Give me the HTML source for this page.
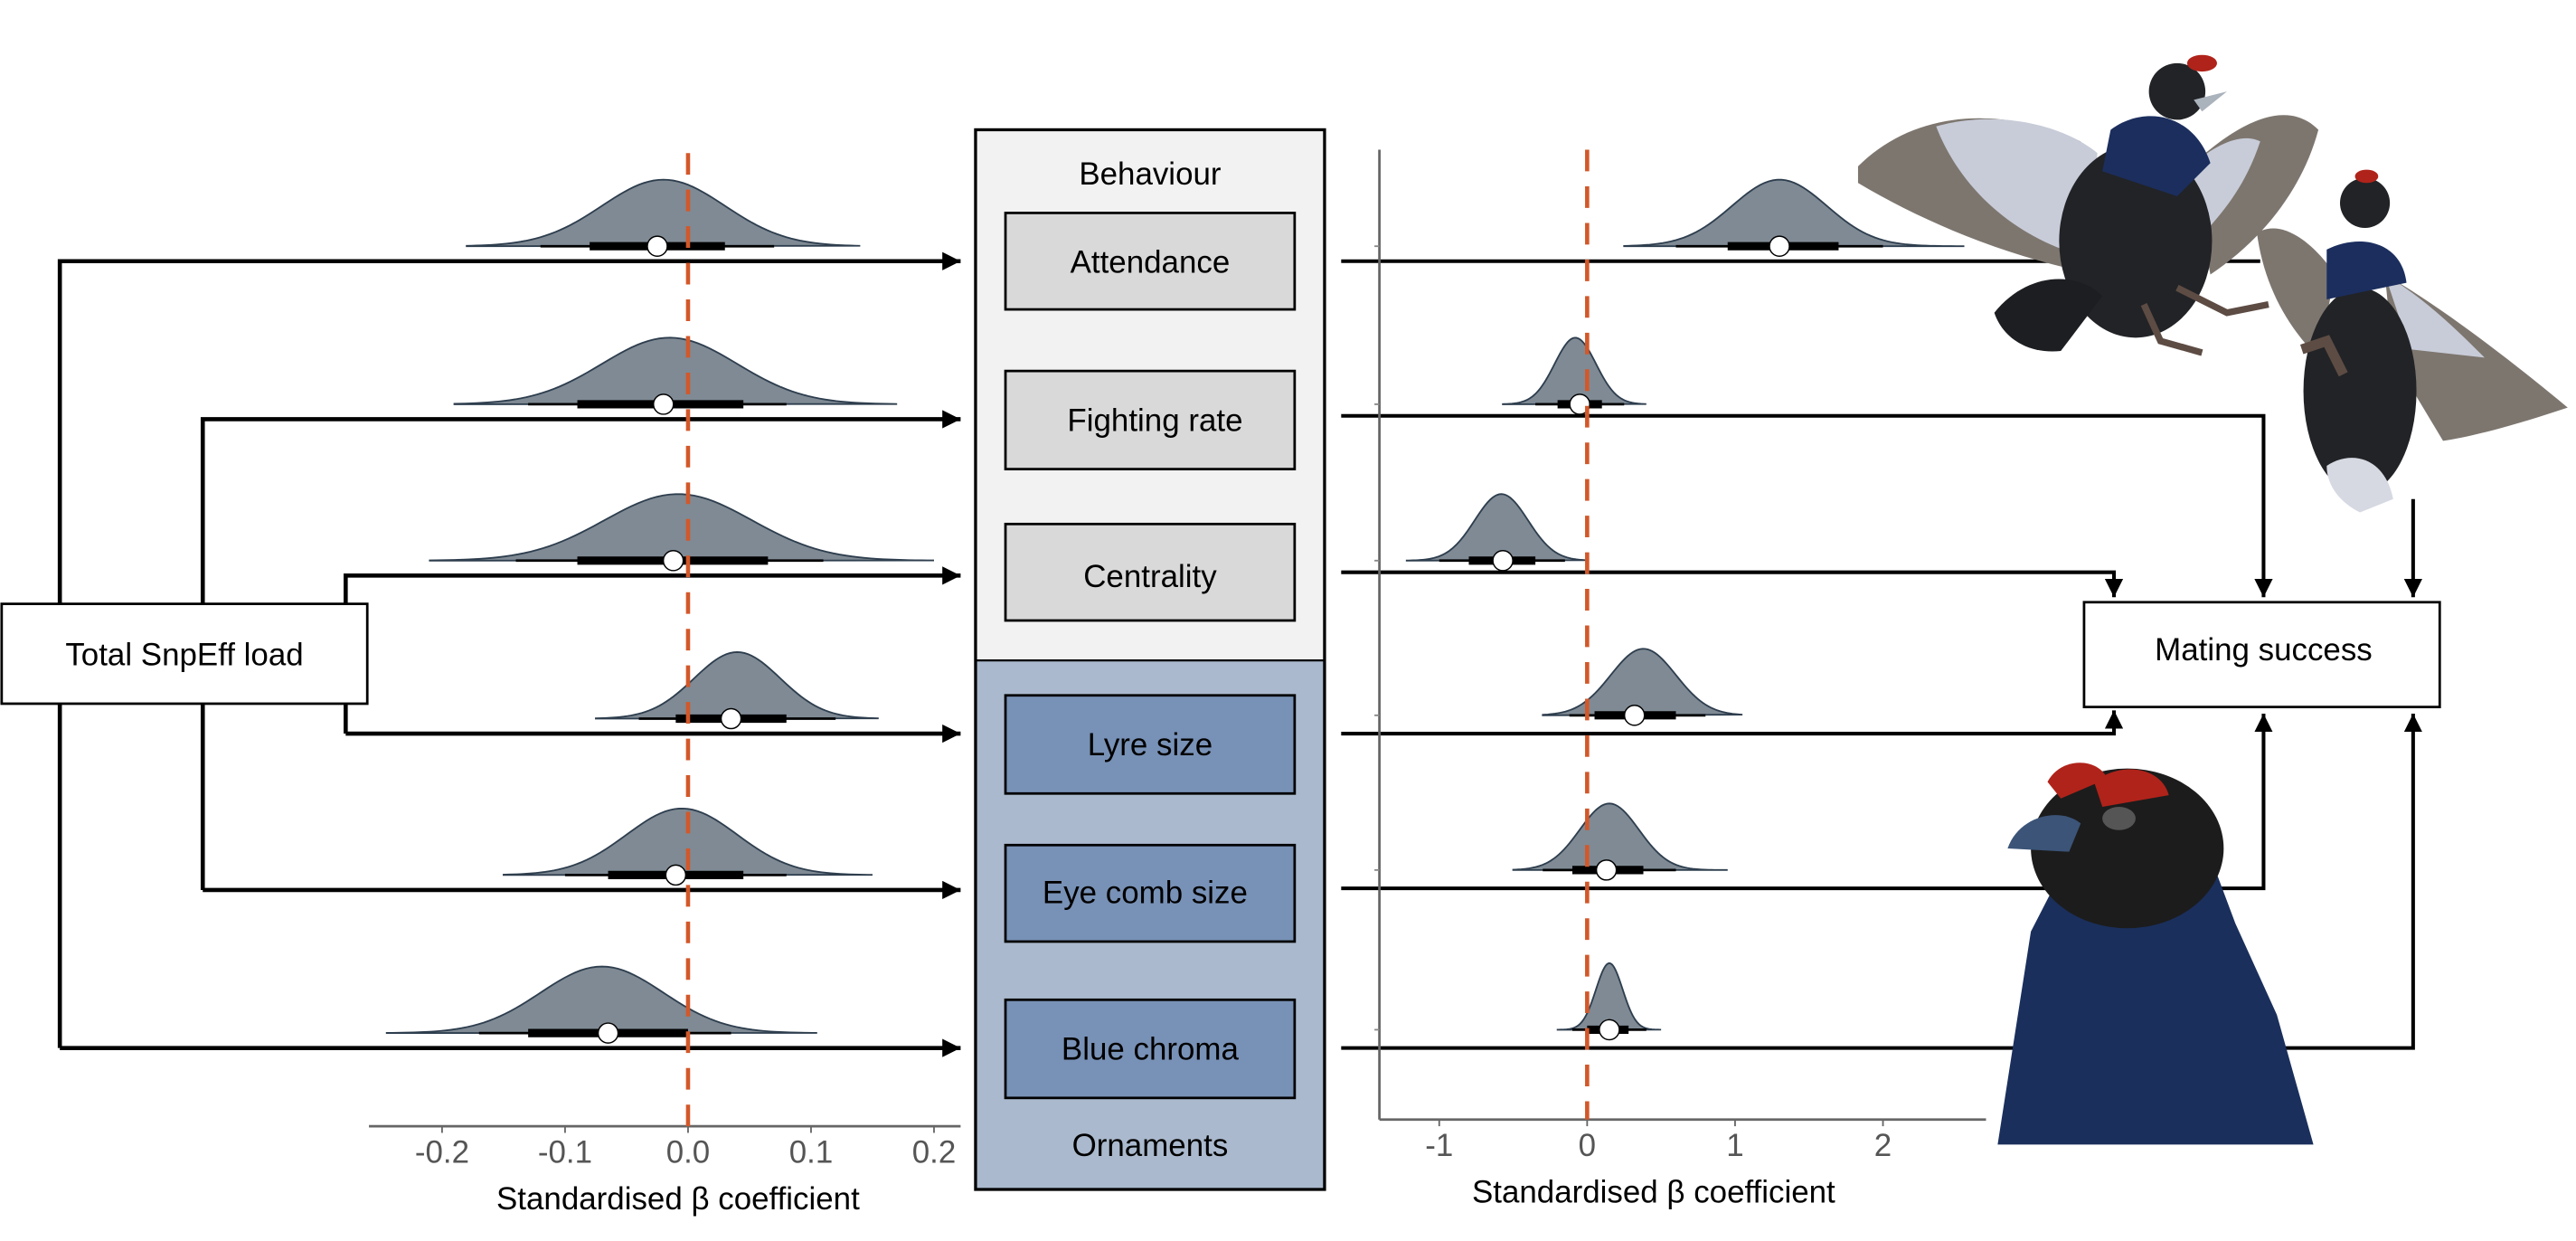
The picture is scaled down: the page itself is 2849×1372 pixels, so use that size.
<!DOCTYPE html>
<html><head><meta charset="utf-8"><style>
html,body{margin:0;padding:0;background:#fff;}
svg{display:block;}
text{font-family:"Liberation Sans",Arial,sans-serif;}
</style></head><body>
<svg id="fig" width="2849" height="1372" viewBox="0 0 1550 746" preserveAspectRatio="none" xmlns="http://www.w3.org/2000/svg">
<defs>
<marker id="ah" viewBox="0 0 10 10" refX="10" refY="5" markerWidth="11" markerHeight="11" orient="auto-start-reverse" markerUnits="userSpaceOnUse"><path d="M0,0 L10,5 L0,10 z" fill="#000"/></marker>
</defs>
<g id="birds">
 <g>
  <path d="M1118,100 C1150,68 1200,62 1252,85 L1262,165 C1210,155 1160,135 1118,110 Z" fill="#7d766f"/>
  <path d="M1165,76 C1200,66 1240,74 1262,92 L1258,155 C1215,145 1180,115 1165,76 Z" fill="#c8ccd8"/>
  <path d="M1318,100 C1345,75 1375,58 1395,78 C1385,115 1360,145 1330,165 Z" fill="#7d766f"/>
  <path d="M1318,100 C1335,85 1350,80 1360,85 C1350,115 1335,130 1322,145 Z" fill="#c8ccd8"/>
  <ellipse cx="1285" cy="145" rx="46" ry="58" fill="#222326"/>
  <path d="M1270,78 C1290,63 1320,68 1330,98 L1310,118 L1265,103 Z" fill="#1b2e5e"/>
  <path d="M1200,188 C1220,163 1250,163 1265,178 L1240,211 C1220,213 1205,203 1200,188 Z" fill="#1d1e22"/>
  <circle cx="1310" cy="55" r="17" fill="#222326"/>
  <ellipse cx="1325" cy="38" rx="9" ry="5" fill="#b0231a"/>
  <path d="M1320,60 L1340,55 L1325,67 Z" fill="#aab2bc"/>
  <path d="M1290,183 L1300,205 L1325,212" stroke="#5d4c44" stroke-width="4" fill="none"/>
  <path d="M1310,173 L1340,188 L1365,183" stroke="#5d4c44" stroke-width="4" fill="none"/>
 </g>
 <g>
  <path d="M1358,140 C1375,130 1395,150 1405,165 L1395,215 C1375,195 1362,170 1358,140 Z" fill="#7d766f"/>
  <path d="M1435,165 C1470,185 1515,220 1545,245 C1515,255 1490,262 1470,265 L1440,215 Z" fill="#7d766f"/>
  <path d="M1435,165 C1460,180 1480,200 1495,215 L1450,210 Z" fill="#c8ccd8"/>
  <ellipse cx="1420" cy="235" rx="34" ry="62" fill="#222326"/>
  <path d="M1400,150 C1420,140 1445,145 1448,170 L1400,180 Z" fill="#1b2e5e"/>
  <circle cx="1423" cy="122" r="15" fill="#222326"/>
  <ellipse cx="1424" cy="106" rx="7" ry="4" fill="#b0231a"/>
  <path d="M1400,280 C1415,270 1435,275 1440,300 L1420,308 C1408,302 1400,292 1400,280 Z" fill="#d6d9e2"/>
  <path d="M1385,210 L1400,205 L1410,225" stroke="#5d4c44" stroke-width="6" fill="none"/>
 </g>
 <g>
  <path d="M1202,688 L1222,560 L1240,525 L1330,515 L1345,555 L1370,610 L1392,688 Z" fill="#1a2f5c"/>
  <ellipse cx="1280" cy="510" rx="58" ry="48" fill="#1c1c1c"/>
  <path d="M1208,510 C1215,490 1240,485 1252,495 L1245,512 Z" fill="#3b5478"/>
  <ellipse cx="1275" cy="492" rx="10" ry="7" fill="#555"/>
  <path d="M1232,470 C1240,455 1262,455 1268,468 L1240,480 Z" fill="#b0231a"/>
  <path d="M1260,470 C1275,458 1300,460 1305,478 L1265,485 Z" fill="#b0231a"/>
 </g>
</g>
<g id="static">
 <g stroke="#000" stroke-width="2.5" fill="none">
  <path d="M36,630 L36,157 L578,157" marker-end="url(#ah)"/>
  <path d="M36,630 L578,630" marker-end="url(#ah)"/>
  <path d="M122,535 L122,252 L578,252" marker-end="url(#ah)"/>
  <path d="M122,535 L578,535" marker-end="url(#ah)"/>
  <path d="M208,441 L208,346 L578,346" marker-end="url(#ah)"/>
  <path d="M208,441 L578,441" marker-end="url(#ah)"/>
 </g>
 <rect x="1" y="363" width="220" height="60" fill="#fff" stroke="#000" stroke-width="1.5"/>
 <text x="111" y="400" font-size="19" text-anchor="middle">Total SnpEff load</text>
 <rect x="587" y="78" width="210" height="319" fill="#f2f2f2"/>
 <rect x="587" y="397" width="210" height="318" fill="#aab9cd"/>
 <rect x="587" y="78" width="210" height="637" fill="none" stroke="#000" stroke-width="1.8"/>
 <line x1="587" y1="397" x2="797" y2="397" stroke="#000" stroke-width="1.2"/>
 <text x="692" y="111" font-size="19" text-anchor="middle">Behaviour</text>
 <text x="692" y="695" font-size="19" text-anchor="middle">Ornaments</text>
 <g stroke="#000" stroke-width="1.5">
  <rect x="605" y="128" width="174" height="58" fill="#d9d9d9"/>
  <rect x="605" y="223" width="174" height="59" fill="#d9d9d9"/>
  <rect x="605" y="315" width="174" height="58" fill="#d9d9d9"/>
  <rect x="605" y="418" width="174" height="59" fill="#7891b6"/>
  <rect x="605" y="508" width="174" height="58" fill="#7891b6"/>
  <rect x="605" y="601" width="174" height="59" fill="#7891b6"/>
 </g>
 <g font-size="19" text-anchor="middle">
  <text x="692" y="164">Attendance</text>
  <text x="695" y="259">Fighting rate</text>
  <text x="692" y="353">Centrality</text>
  <text x="692" y="454">Lyre size</text>
  <text x="689" y="543">Eye comb size</text>
  <text x="692" y="637">Blue chroma</text>
 </g>
 <g stroke="#000" stroke-width="2.2" fill="none">
  <path d="M807,157 L1360,157"/>
  <path d="M807,250 L1362,250 L1362,359" marker-end="url(#ah)"/>
  <path d="M807,344 L1272,344 L1272,359" marker-end="url(#ah)"/>
  <path d="M1452,300 L1452,359" marker-end="url(#ah)"/>
  <path d="M807,441 L1272,441 L1272,427" marker-end="url(#ah)"/>
  <path d="M807,534 L1362,534 L1362,429" marker-end="url(#ah)"/>
  <path d="M807,630 L1452,630 L1452,429" marker-end="url(#ah)"/>
 </g>
 <rect x="1254" y="362" width="214" height="63" fill="#fff" stroke="#000" stroke-width="1.5"/>
 <text x="1362" y="397" font-size="19" text-anchor="middle">Mating success</text>
</g>
<g id="leftChart"></g>
<g id="rightChart"></g>
</svg>
<script>
const leftTraits = ["Attendance","Fighting rate","Centrality","Lyre size","Eye comb size","Blue chroma"];
const leftMedian = [-0.025,-0.02,-0.012,0.035,-0.01,-0.065];
const leftPeak = [-0.02,-0.015,-0.008,0.04,-0.005,-0.07];
const leftSd = [0.05,0.055,0.06,0.035,0.045,0.05];
const leftMin = [-0.18,-0.19,-0.21,-0.075,-0.15,-0.245];
const leftMax = [0.14,0.17,0.2,0.155,0.15,0.105];
const leftThickLo = [-0.08,-0.09,-0.09,-0.01,-0.065,-0.13];
const leftThickHi = [0.03,0.045,0.065,0.08,0.045,0.0];
const leftThinLo = [-0.12,-0.13,-0.14,-0.04,-0.10,-0.17];
const leftThinHi = [0.07,0.08,0.11,0.12,0.08,0.035];
const leftTicks = [-0.2,-0.1,0.0,0.1,0.2];
const leftTickLabels = ["-0.2","-0.1","0.0","0.1","0.2"];
const rightTraits = ["Attendance","Fighting rate","Centrality","Lyre size","Eye comb size","Blue chroma"];
const rightMedian = [1.3,-0.05,-0.57,0.32,0.13,0.15];
const rightPeak = [1.3,-0.08,-0.58,0.38,0.15,0.15];
const rightSd = [0.32,0.14,0.18,0.22,0.2,0.09];
const rightMin = [0.25,-0.57,-1.22,-0.3,-0.5,-0.2];
const rightMax = [2.55,0.4,0.0,1.05,0.95,0.5];
const rightThickLo = [0.95,-0.2,-0.8,0.05,-0.1,0.0];
const rightThickHi = [1.7,0.1,-0.35,0.6,0.38,0.28];
const rightThinLo = [0.6,-0.35,-1.0,-0.12,-0.3,-0.1];
const rightThinHi = [2.0,0.25,-0.15,0.8,0.6,0.4];
const rightTicks = [-1,0,1,2];
const rightTickLabels = ["-1","0","1","2"];

const NS = "http://www.w3.org/2000/svg";
function mk(tag, attrs, parent){const e=document.createElementNS(NS,tag);for(const k in attrs)e.setAttribute(k,attrs[k]);parent.appendChild(e);return e;}
const leftBase = [148,243,337,432,526,621];
const rightBase = [148,243,337,430,523,619];
function xL(v){return 414+v*740;}
function xR(v){return 955+v*89;}

function drawPanel(g, xf, traits, med, peak, sd, mn, mx, tlo, thi, nlo, nhi, bases, prefix){
  for(let i=0;i<traits.length;i++){
    const b=bases[i], h=40;
    let d="M"+xf(mn[i])+","+b;
    const n=80;
    for(let k=0;k<=n;k++){
      const v=mn[i]+(mx[i]-mn[i])*k/n;
      const y=b-h*Math.exp(-Math.pow(v-peak[i],2)/(2*sd[i]*sd[i]));
      d+=" L"+xf(v).toFixed(2)+","+y.toFixed(2);
    }
    d+=" Z";
    const p=mk("path",{d:d,fill:"#7f8a94",stroke:"#2e3e4e","stroke-width":"1"},g);
    
    
    const l1=mk("line",{x1:xf(nlo[i]),x2:xf(nhi[i]),y1:b,y2:b,stroke:"#000","stroke-width":"1.5"},g);
    
    
    const l2=mk("line",{x1:xf(tlo[i]),x2:xf(thi[i]),y1:b,y2:b,stroke:"#000","stroke-width":"5"},g);
    
    
    const c=mk("ellipse",{cx:xf(med[i]),cy:b,rx:6,ry:6,fill:"#fff",stroke:"#000","stroke-width":"0.8"},g);
    
    
  }
}
const gL=document.getElementById("leftChart");
const gR=document.getElementById("rightChart");
let ax=mk("line",{x1:222,x2:578,y1:677,y2:677,stroke:"#666","stroke-width":"1.5"},gL);


leftTicks.forEach((t,i)=>{
  const tk=mk("line",{x1:xL(t),x2:xL(t),y1:677,y2:681,stroke:"#666","stroke-width":"1"},gL);
  
  
  const tx=mk("text",{x:xL(t),y:699,"font-size":"19","text-anchor":"middle",fill:"#555"},gL);
  tx.textContent=leftTickLabels[i];
  
  
});
let tt=mk("text",{x:408,y:727,"font-size":"19","text-anchor":"middle"},gL);
tt.textContent="Standardised β coefficient";


drawPanel(gL,xL,leftTraits,leftMedian,leftPeak,leftSd,leftMin,leftMax,leftThickLo,leftThickHi,leftThinLo,leftThinHi,leftBase,"left");
let zl=mk("line",{x1:xL(0),x2:xL(0),y1:92,y2:677,stroke:"#d2582a","stroke-width":"2.5","stroke-dasharray":"13,9"},gL);


let ay=mk("line",{x1:830,x2:830,y1:90,y2:673,stroke:"#666","stroke-width":"1.5"},gR);


rightBase.forEach(b=>{
  const yt=mk("line",{x1:827,x2:830,y1:b,y2:b,stroke:"#888","stroke-width":"1"},gR);
  
  
});
let axr=mk("line",{x1:830,x2:1195,y1:673,y2:673,stroke:"#666","stroke-width":"1.5"},gR);


rightTicks.forEach((t,i)=>{
  const tk=mk("line",{x1:xR(t),x2:xR(t),y1:673,y2:677,stroke:"#666","stroke-width":"1"},gR);
  
  
  const tx=mk("text",{x:xR(t),y:695,"font-size":"19","text-anchor":"middle",fill:"#555"},gR);
  tx.textContent=rightTickLabels[i];
  
  
});
let tr=mk("text",{x:995,y:723,"font-size":"19","text-anchor":"middle"},gR);
tr.textContent="Standardised β coefficient";


drawPanel(gR,xR,rightTraits,rightMedian,rightPeak,rightSd,rightMin,rightMax,rightThickLo,rightThickHi,rightThinLo,rightThinHi,rightBase,"right");
let zr=mk("line",{x1:xR(0),x2:xR(0),y1:90,y2:673,stroke:"#d2582a","stroke-width":"2.5","stroke-dasharray":"13,9"},gR);


const svg=document.getElementById("fig");
svg.appendChild(document.getElementById("birds"));
</script>
</body></html>
